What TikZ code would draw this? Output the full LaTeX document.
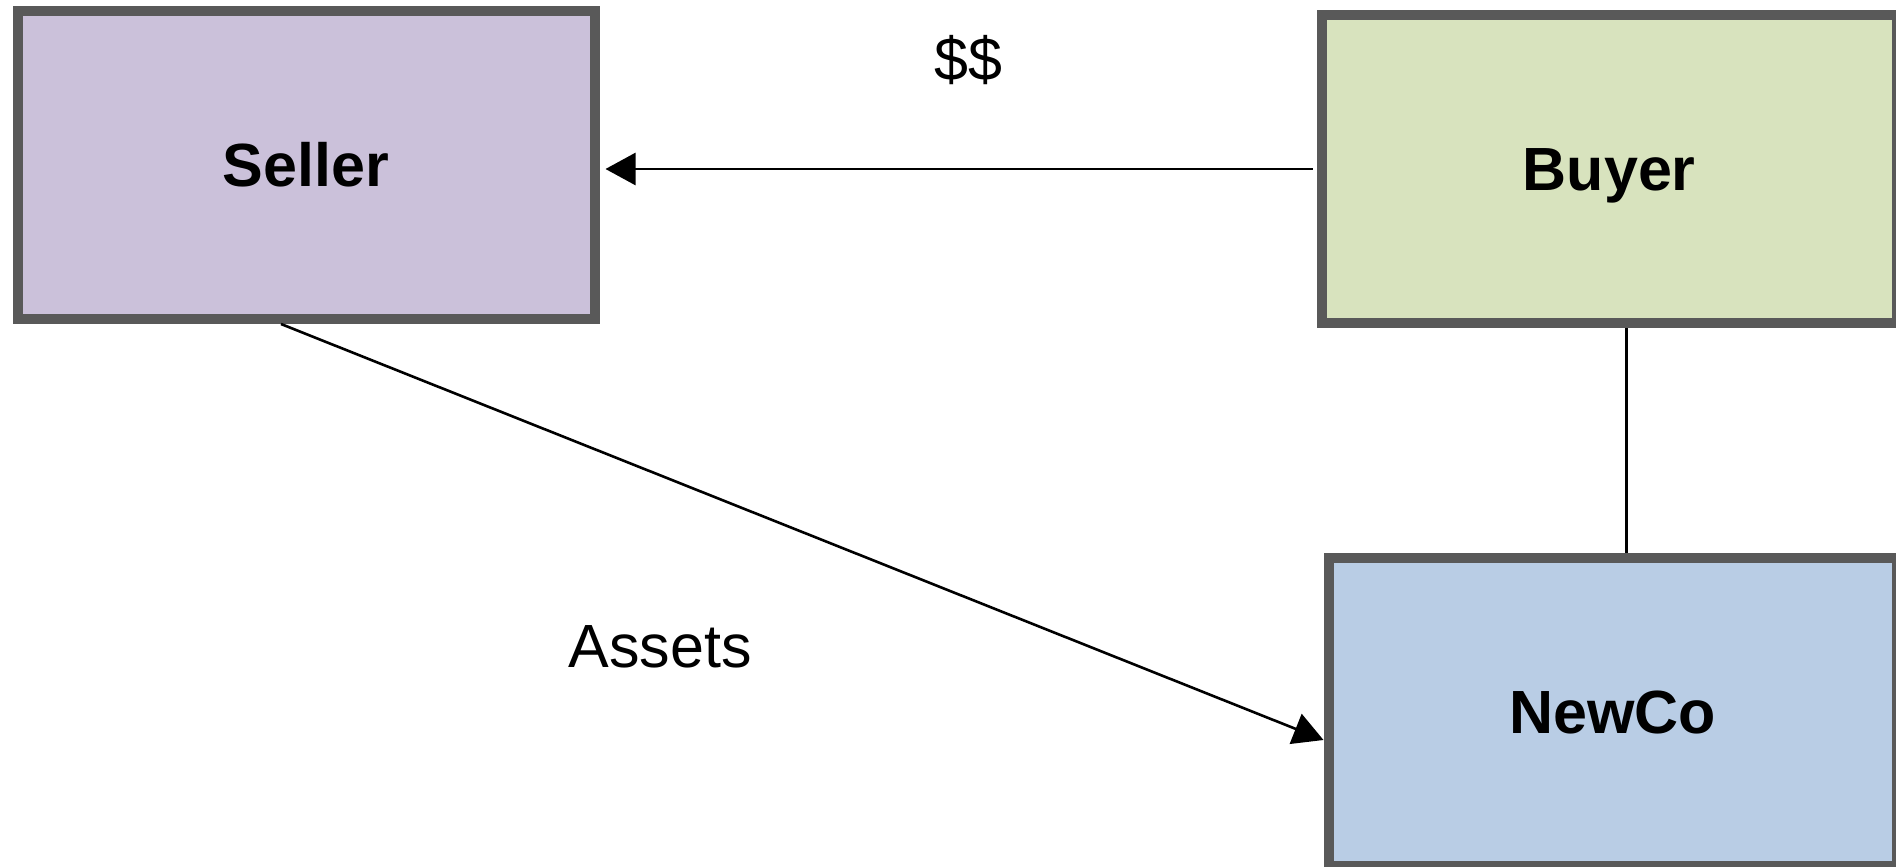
\documentclass[tikz,border=0pt]{standalone}
\usepackage{fontspec}
\setmainfont{Liberation Sans}
\usetikzlibrary{arrows.meta}
\definecolor{sellerfill}{HTML}{CBC1DA}
\definecolor{buyerfill}{HTML}{D8E3BE}
\definecolor{newcofill}{HTML}{B9CDE5}
\definecolor{boxline}{HTML}{595959}
\begin{document}
\begin{tikzpicture}[x=0.5pt,y=-0.5pt,
  party/.style={rectangle, draw=boxline, line width=5pt, inner sep=0pt,
    font=\fontsize{30.5}{36}\selectfont\bfseries, text height=21.8pt, text depth=0pt},
  lbl/.style={font=\fontsize{30.5}{36}\selectfont, inner sep=0pt, anchor=base},
  conn/.style={draw=black, line width=1.3pt},
  arr/.style={conn, -{Triangle[length=15pt,width=16pt]}}]
\useasboundingbox (0,0) rectangle (1896,867);
\node[party, fill=sellerfill, minimum width=288.5pt, minimum height=154pt] (seller) at (306,165) {Seller};
\node[party, fill=buyerfill, minimum width=287.75pt, minimum height=154pt] (buyer) at (1609.25,169) {Buyer};
\node[party, fill=newcofill, minimum width=284.25pt, minimum height=154pt] (newco) at (1612.75,712) {NewCo};
\draw[arr, shorten <=2pt, shorten >=3pt] (buyer.west) -- (seller.east |- buyer.west);
\draw[arr] ([xshift=-12.5pt]seller.south) -- ([yshift=-14pt]newco.west);
\draw[conn] ([xshift=8.5pt]buyer.south) -- ([xshift=8.5pt]buyer.south |- newco.north);
\node[lbl] (money) at (968,80) {\$\$};
\node[lbl] (assets) at (660,667) {Assets};
\end{tikzpicture}
\end{document}
